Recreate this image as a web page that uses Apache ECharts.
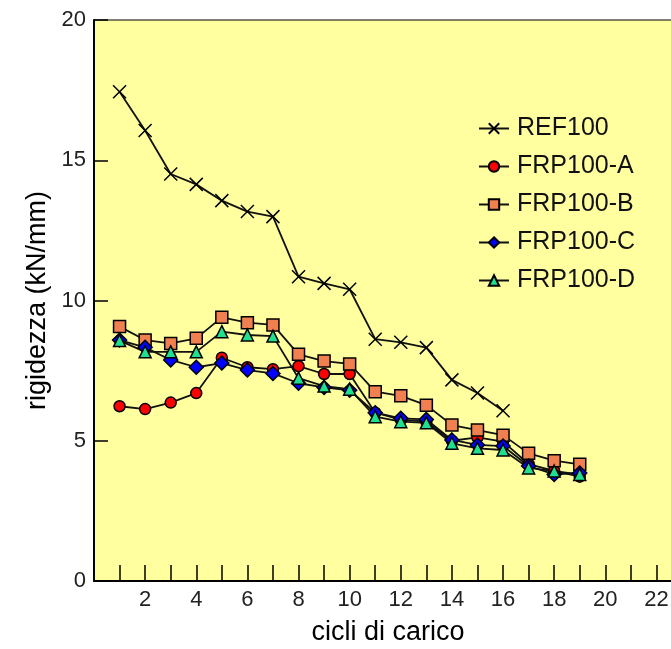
<!DOCTYPE html>
<html><head><meta charset="utf-8">
<script src="https://cdn.jsdelivr.net/npm/echarts@6/dist/echarts.min.js"></script>
<style>html,body{margin:0;padding:0;background:#fff}#c{width:671px;height:649px}</style>
</head><body><div id="c"></div>
<script>
const cycles = [1,2,3,4,5,6,7,8,9,10,11,12,13,14,15,16,17,18,19];
const ref100 = [17.44,16.06,14.51,14.14,13.56,13.17,12.99,10.85,10.61,10.40,8.62,8.51,8.32,7.17,6.70,6.07];
const frpA = [6.23,6.13,6.36,6.70,7.96,7.62,7.55,7.66,7.38,7.38,6.00,5.75,5.68,5.00,5.12,4.97,4.17,3.93,3.72];
const frpB = [9.07,8.59,8.47,8.65,9.40,9.21,9.13,8.08,7.84,7.74,6.75,6.60,6.27,5.56,5.38,5.20,4.55,4.29,4.16];
const frpC = [8.59,8.33,7.88,7.62,7.77,7.52,7.40,7.05,6.90,6.80,6.00,5.80,5.76,5.03,4.85,4.81,4.10,3.80,3.85];
const frpD = [8.57,8.17,8.17,8.17,8.89,8.77,8.73,7.23,6.95,6.84,5.86,5.68,5.64,4.91,4.73,4.67,4.03,3.92,3.80];
const xTicks = [2,4,6,8,10,12,14,16,18,20,22];
const yTicks = [0,5,10,15,20];

const pairs = arr => arr.map((v,i)=>[cycles[i], v]);
const font = 'Liberation Sans, Arial, sans-serif';
const lineStyle = {color:'#111', width:1.8};
const crossPath = 'path://M0,0L10,10M10,0L0,10';

function lineSeries(name, data, symbol, size, fill){
  return {
    name, type:'line', data:pairs(data), symbol, symbolSize:size,
    lineStyle, itemStyle:{color:fill, borderColor:'#000', borderWidth:1.5},
    emphasis:{disabled:true}, animation:false
  };
}
function dots(data){
  return {type:'scatter', data:pairs(data), symbol:'circle', symbolSize:2.5,
    itemStyle:{color:'#000'}, silent:true, animation:false};
}

const chart = echarts.init(document.getElementById('c'), null, {renderer:'canvas'});
chart.setOption({
  backgroundColor:'#fff',
  animation:false,
  grid:{left:94, top:20, width:588, height:561, outerBoundsMode:'none', containLabel:false,
    show:true, backgroundColor:'#FFFFA0', borderColor:'#000', borderWidth:1},
  legend:{
    orient:'vertical', left:473, top:111, itemWidth:30, itemHeight:13, itemGap:13,
    textStyle:{fontFamily:font, fontSize:25, color:'#111', padding:[0,0,0,3], lineHeight:25},
    data:['REF100','FRP100-A','FRP100-B','FRP100-C','FRP100-D']
  },
  xAxis:{
    type:'value', min:0, max:23, interval:1,
    name:'cicli di carico', nameLocation:'middle', nameGap:38,
    nameTextStyle:{fontFamily:font, fontSize:27, color:'#000'},
    axisLine:{show:true, onZero:false, lineStyle:{color:'#000', width:2}},
    axisTick:{show:true, inside:true, length:16, lineStyle:{color:'#000', width:1.5}},
    axisLabel:{fontFamily:font, fontSize:22, color:'#222', margin:8,
      formatter:v => xTicks.indexOf(v) >= 0 ? String(v) : ''},
    splitLine:{show:false}
  },
  yAxis:{
    type:'value', min:yTicks[0], max:yTicks[yTicks.length-1], interval:5,
    name:'rigidezza (kN/mm)', nameLocation:'middle', nameGap:43,
    nameTextStyle:{fontFamily:font, fontSize:27, color:'#000'},
    axisLine:{show:true, lineStyle:{color:'#000', width:2}},
    axisTick:{show:true, inside:true, length:14, lineStyle:{color:'#000', width:1.5}},
    axisLabel:{fontFamily:font, fontSize:22, color:'#222', margin:8},
    splitLine:{show:false}
  },
  series:[
    Object.assign(lineSeries('REF100', ref100, crossPath, 13, '#000'), {itemStyle:{color:'#000', borderColor:'#000', borderWidth:1.5}}),
    lineSeries('FRP100-A', frpA, 'circle', 11, '#FF0000'),
    dots(frpA),
    lineSeries('FRP100-B', frpB, 'rect', 12, '#F08050'),
    dots(frpB),
    lineSeries('FRP100-C', frpC, 'diamond', 14, '#0000FF'),
    lineSeries('FRP100-D', frpD, 'triangle', 12, '#20E090')
  ]
});
</script></body></html>
